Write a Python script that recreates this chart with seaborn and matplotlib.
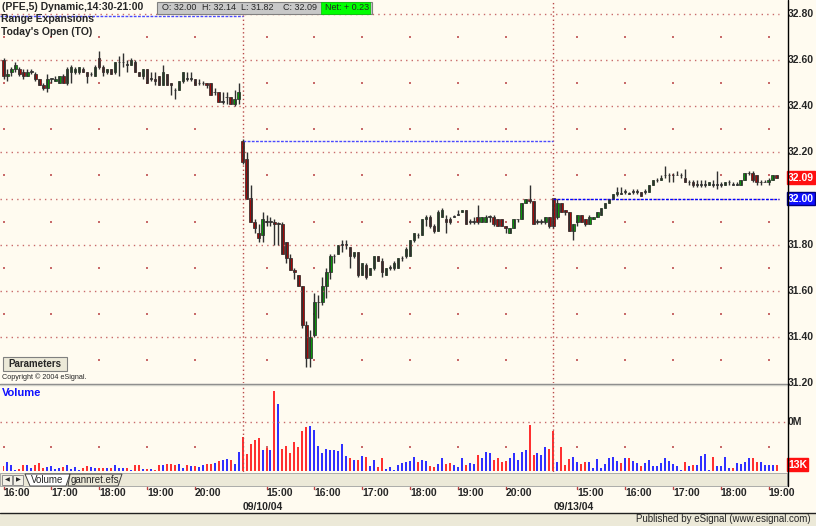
# --- PFE 5-min chart, eSignal look --- #
import numpy as np
import pandas as pd
import matplotlib
matplotlib.use("Agg")
import matplotlib.pyplot as plt
import matplotlib.transforms as mtransforms
from matplotlib.patches import Rectangle, Polygon
from matplotlib.lines import Line2D
import seaborn as sns

# ===================================================================== #
# --- DATA --- #
# day 1 : 16:00 - 20:55 (60 bars)
day1_open = [32.60, 32.53, 32.55, 32.56, 32.56, 32.55, 32.53, 32.55, 32.54, 32.52,
             32.49, 32.48, 32.52, 32.51, 32.50, 32.53, 32.50, 32.55, 32.55, 32.55,
             32.56, 32.55, 32.54, 32.53, 32.61, 32.57, 32.55, 32.56, 32.55, 32.59,
             32.59, 32.58, 32.58, 32.59, 32.55, 32.53, 32.56, 32.52, 32.52, 32.53,
             32.49, 32.54, 32.50, 32.47, 32.47, 32.51, 32.52, 32.52, 32.52, 32.50,
             32.50, 32.50, 32.50, 32.46, 32.46, 32.42, 32.44, 32.44, 32.41, 32.43]
day1_high = [32.61, 32.56, 32.57, 32.59, 32.57, 32.56, 32.56, 32.56, 32.55, 32.52,
             32.50, 32.54, 32.52, 32.53, 32.53, 32.54, 32.57, 32.58, 32.57, 32.57,
             32.57, 32.55, 32.55, 32.58, 32.64, 32.58, 32.56, 32.56, 32.59, 32.62,
             32.63, 32.60, 32.61, 32.60, 32.55, 32.56, 32.56, 32.55, 32.55, 32.53,
             32.58, 32.54, 32.50, 32.48, 32.51, 32.55, 32.55, 32.55, 32.52, 32.52,
             32.51, 32.50, 32.50, 32.48, 32.46, 32.46, 32.46, 32.44, 32.47, 32.50]
day1_low = [32.52, 32.51, 32.53, 32.55, 32.53, 32.52, 32.53, 32.54, 32.51, 32.49,
            32.47, 32.46, 32.50, 32.51, 32.50, 32.50, 32.49, 32.50, 32.54, 32.54,
            32.55, 32.50, 32.53, 32.53, 32.56, 32.53, 32.54, 32.54, 32.54, 32.53,
            32.57, 32.55, 32.58, 32.55, 32.53, 32.52, 32.50, 32.51, 32.49, 32.49,
            32.49, 32.49, 32.45, 32.43, 32.47, 32.50, 32.51, 32.51, 32.49, 32.49,
            32.49, 32.48, 32.45, 32.45, 32.42, 32.41, 32.41, 32.41, 32.40, 32.41]
day1_close = [32.53, 32.54, 32.56, 32.58, 32.54, 32.53, 32.55, 32.55, 32.52, 32.49,
              32.48, 32.52, 32.52, 32.52, 32.53, 32.50, 32.56, 32.57, 32.56, 32.57,
              32.55, 32.53, 32.54, 32.57, 32.57, 32.55, 32.56, 32.54, 32.59, 32.59,
              32.59, 32.58, 32.60, 32.55, 32.53, 32.56, 32.50, 32.52, 32.51, 32.49,
              32.55, 32.49, 32.49, 32.47, 32.51, 32.55, 32.52, 32.52, 32.49, 32.50,
              32.50, 32.49, 32.45, 32.46, 32.42, 32.42, 32.44, 32.41, 32.43, 32.46]

# day 2 : 09/10/04, 14:30 - 20:55 (78 bars)
day2_open = [32.25, 32.17, 32.00, 31.90, 31.85, 31.84, 31.90, 31.90, 31.90, 31.89,
             31.89, 31.81, 31.74, 31.69, 31.67, 31.62, 31.45, 31.31, 31.41, 31.55,
             31.55, 31.62, 31.68, 31.75, 31.76, 31.80, 31.80, 31.79, 31.75, 31.77,
             31.67, 31.71, 31.67, 31.70, 31.75, 31.73, 31.67, 31.70, 31.70, 31.70,
             31.74, 31.75, 31.75, 31.82, 31.84, 31.84, 31.91, 31.92, 31.88, 31.86,
             31.92, 31.91, 31.91, 31.92, 31.93, 31.94, 31.95, 31.90, 31.90, 31.92,
             31.90, 31.90, 31.92, 31.92, 31.91, 31.91, 31.88, 31.85, 31.87, 31.91,
             31.91, 31.98, 32.00, 31.99, 31.90, 31.90, 31.90, 31.92]
day2_high = [32.26, 32.20, 32.06, 31.91, 31.89, 31.94, 31.93, 31.92, 31.91, 31.90,
             31.90, 31.81, 31.76, 31.70, 31.67, 31.62, 31.47, 31.43, 31.59, 31.58,
             31.66, 31.70, 31.76, 31.76, 31.80, 31.82, 31.82, 31.79, 31.77, 31.77,
             31.72, 31.72, 31.70, 31.75, 31.75, 31.74, 31.70, 31.71, 31.73, 31.74,
             31.75, 31.79, 31.82, 31.85, 31.85, 31.91, 31.93, 31.93, 31.89, 31.95,
             31.96, 31.93, 31.92, 31.93, 31.95, 31.95, 31.95, 31.91, 31.92, 31.97,
             31.92, 31.93, 31.93, 31.93, 31.91, 31.91, 31.88, 31.87, 31.91, 31.91,
             31.98, 32.00, 32.06, 31.99, 31.91, 31.91, 31.92, 31.92]
day2_low = [32.15, 32.00, 31.90, 31.85, 31.81, 31.81, 31.88, 31.88, 31.80, 31.80,
            31.76, 31.72, 31.69, 31.65, 31.62, 31.44, 31.27, 31.27, 31.40, 31.48,
            31.54, 31.57, 31.65, 31.72, 31.76, 31.77, 31.78, 31.70, 31.74, 31.66,
            31.67, 31.65, 31.67, 31.69, 31.73, 31.66, 31.67, 31.69, 31.69, 31.70,
            31.73, 31.74, 31.75, 31.81, 31.83, 31.84, 31.88, 31.87, 31.85, 31.86,
            31.92, 31.85, 31.89, 31.92, 31.93, 31.94, 31.89, 31.89, 31.89, 31.89,
            31.90, 31.90, 31.90, 31.88, 31.88, 31.88, 31.85, 31.85, 31.87, 31.90,
            31.91, 31.98, 31.98, 31.89, 31.89, 31.89, 31.89, 31.87]
day2_close = [32.16, 32.00, 31.90, 31.87, 31.83, 31.91, 31.90, 31.90, 31.89, 31.89,
              31.76, 31.74, 31.69, 31.68, 31.62, 31.45, 31.31, 31.40, 31.55, 31.55,
              31.62, 31.68, 31.75, 31.75, 31.80, 31.80, 31.80, 31.75, 31.77, 31.67,
              31.72, 31.66, 31.70, 31.75, 31.73, 31.68, 31.70, 31.70, 31.72, 31.74,
              31.74, 31.78, 31.82, 31.85, 31.84, 31.91, 31.92, 31.88, 31.86, 31.94,
              31.95, 31.90, 31.90, 31.92, 31.93, 31.95, 31.89, 31.90, 31.90, 31.90,
              31.92, 31.92, 31.92, 31.89, 31.88, 31.88, 31.87, 31.87, 31.91, 31.91,
              31.98, 32.00, 31.99, 31.89, 31.90, 31.90, 31.92, 31.88]

# day 3 : 09/13/04, 14:30 - 19:10 (57 bars)
day3_open = [32.00, 31.92, 31.98, 31.95, 31.94, 31.86, 31.90, 31.93, 31.91, 31.89,
             31.91, 31.92, 31.93, 31.96, 31.98, 32.00, 32.02, 32.02, 32.03, 32.02,
             32.03, 32.03, 32.03, 32.03, 32.03, 32.06, 32.08, 32.08, 32.10, 32.10,
             32.10, 32.10, 32.10, 32.09, 32.07, 32.07, 32.06, 32.06, 32.06, 32.06,
             32.06, 32.06, 32.06, 32.06, 32.07, 32.06, 32.06, 32.06, 32.08, 32.11,
             32.11, 32.10, 32.07, 32.07, 32.07, 32.08, 32.10]
day3_high = [32.00, 32.00, 31.98, 31.95, 31.94, 31.89, 31.93, 31.93, 31.91, 31.93,
             31.92, 31.94, 31.96, 31.98, 32.00, 32.02, 32.05, 32.05, 32.04, 32.03,
             32.04, 32.04, 32.03, 32.04, 32.06, 32.08, 32.09, 32.10, 32.14, 32.11,
             32.11, 32.12, 32.11, 32.13, 32.08, 32.08, 32.08, 32.08, 32.08, 32.07,
             32.08, 32.12, 32.07, 32.07, 32.08, 32.07, 32.07, 32.08, 32.11, 32.12,
             32.12, 32.10, 32.08, 32.08, 32.09, 32.10, 32.10]
day3_low = [31.87, 31.91, 31.94, 31.93, 31.86, 31.82, 31.88, 31.90, 31.88, 31.89,
            31.91, 31.92, 31.93, 31.96, 31.98, 32.00, 32.01, 32.02, 32.02, 32.02,
            32.02, 32.02, 32.01, 32.02, 32.03, 32.06, 32.07, 32.08, 32.09, 32.07,
            32.07, 32.10, 32.09, 32.07, 32.06, 32.05, 32.05, 32.05, 32.05, 32.06,
            32.05, 32.04, 32.05, 32.06, 32.06, 32.06, 32.06, 32.06, 32.08, 32.10,
            32.07, 32.06, 32.06, 32.07, 32.06, 32.08, 32.09]
day3_close = [31.88, 31.98, 31.94, 31.94, 31.86, 31.89, 31.93, 31.90, 31.89, 31.92,
              31.92, 31.94, 31.96, 31.98, 32.00, 32.02, 32.03, 32.02, 32.03, 32.02,
              32.03, 32.03, 32.01, 32.03, 32.06, 32.08, 32.08, 32.09, 32.10, 32.10,
              32.10, 32.10, 32.10, 32.07, 32.07, 32.06, 32.06, 32.06, 32.06, 32.07,
              32.06, 32.06, 32.06, 32.07, 32.07, 32.06, 32.06, 32.08, 32.11, 32.11,
              32.08, 32.07, 32.07, 32.07, 32.08, 32.10, 32.09]

# volume in thousands
day1_vol = [10, 18, 12, 3, 5, 12, 12, 7, 12, 16, 7, 9, 10, 5, 7, 9, 12, 5, 9, 3,
            7, 10, 9, 7, 7, 7, 7, 7, 12, 7, 7, 7, 3, 12, 12, 5, 5, 5, 3, 12,
            12, 14, 15, 12, 15, 7, 12, 11, 11, 9, 12, 14, 15, 16, 20, 22, 25, 22, 15, 38]
day2_vol = [69, 35, 56, 63, 68, 43, 46, 42, 164, 136, 45, 52, 36, 60, 50, 82, 90, 91, 83, 52,
            36, 44, 42, 42, 40, 56, 30, 27, 23, 23, 30, 29, 11, 23, 9, 26, 4, 9, 3, 12,
            17, 19, 20, 28, 19, 23, 20, 11, 9, 15, 27, 15, 17, 13, 9, 27, 13, 17, 15, 32,
            27, 38, 36, 23, 26, 19, 21, 26, 37, 22, 38, 43, 93, 32, 37, 32, 48, 44]
day3_vol = [81, 19, 48, 13, 24, 28, 19, 15, 19, 18, 7, 24, 7, 15, 27, 29, 20, 16, 27, 27,
            20, 16, 11, 16, 22, 11, 11, 16, 27, 20, 14, 10, 2, 19, 11, 12, 12, 31, 35, 3,
            29, 10, 10, 29, 7, 7, 16, 15, 18, 27, 27, 19, 19, 13, 13, 12, 13]

# levels and labels
range_levels = [32.79, 32.25, 32.00]
day_dates = ["09/10/04", "09/13/04"]
price_ticks = [32.80, 32.60, 32.40, 32.20, 32.00, 31.80, 31.60, 31.40, 31.20]
day1_hours = ["16:00", "17:00", "18:00", "19:00", "20:00"]
day2_hours = ["15:00", "16:00", "17:00", "18:00", "19:00", "20:00"]
day3_hours = ["15:00", "16:00", "17:00", "18:00", "19:00"]
header_title = "(PFE,5) Dynamic,14:30-21:00"
header_ohlc = ["O: 32.00", "H: 32.14", "L: 31.82", "C: 32.09"]
header_net = "Net: + 0.23"

# ===================================================================== #
# --- BUILD SERIES --- #
opens = np.array(day1_open + day2_open + day3_open)
highs = np.array(day1_high + day2_high + day3_high)
lows = np.array(day1_low + day2_low + day3_low)
closes = np.array(day1_close + day2_close + day3_close)
vols = np.array(day1_vol + day2_vol + day3_vol)
idx = np.arange(len(opens))

n1, n2 = len(day1_open), len(day2_open)
day_starts = [n1, n1 + n2]          # 14:30 bars of 09/10 and 09/13
# hourly bars: day 1 starts at 16:00, later days at 14:30 (hour = 6 bars later)
hour_idx = [i * 12 for i in range(len(day1_hours))]
hour_idx += [n1 + 6 + i * 12 for i in range(len(day2_hours))]
hour_idx += [n1 + n2 + 6 + i * 12 for i in range(len(day3_hours))]
hour_lab = day1_hours + day2_hours + day3_hours

prev_close = np.r_[closes[0], closes[:-1]]
down = (closes < opens) | ((closes == opens) & (closes < prev_close))

# ===================================================================== #
# --- STYLE --- #
sns.set_style("white")
plt.rcParams["font.family"] = ["Liberation Sans", "DejaVu Sans"]

BG = "#FFFBF0"
GRID = "#C86A6A"
GRAY = "#ECE9D8"
W, H = 816, 526
BAR_PX = 3.985
X0_PX = 3.5
AX_W = 787

fig = plt.figure(figsize=(W / 100, H / 100), dpi=100)
fig.patch.set_facecolor(BG)


def fx(px):
    return px / W


def fy(py):
    return 1 - py / H


xlim = (-X0_PX / BAR_PX, (AX_W - X0_PX) / BAR_PX)
x_end = (779 - X0_PX) / BAR_PX
px_per_dollar = 46.125 / 0.2

ax = fig.add_axes([0, fy(383), fx(AX_W), 383 / H])
axv = fig.add_axes([0, fy(472), fx(AX_W), (472 - 385) / H])
for a in (ax, axv):
    a.set_facecolor(BG)
    a.set_xlim(*xlim)
    for s in a.spines.values():
        s.set_visible(False)

ax.set_ylim(31.20, 32.80 + 14 / px_per_dollar)
axv.set_ylim(-1 / 0.49, 86 / 0.49)

# ===================================================================== #
# --- PRICE PANEL --- #
ax.hlines(price_ticks[:-1], xlim[0], x_end, colors=GRID, linestyles=(0, (1, 3)), linewidth=1)
mids = [p - 0.1 for p in price_ticks[:-1]]
hx, hy = np.meshgrid(hour_idx, mids)
ax.scatter(hx.ravel(), hy.ravel(), s=1.5, marker="s", color=GRID, linewidths=0)
for d in day_starts:
    ax.axvline(d, color="#B84A4A", linestyle=(0, (1, 2)), linewidth=1)
    axv.axvline(d, color="#B84A4A", linestyle=(0, (1, 2)), linewidth=1)

# range expansion / today's open lines
bounds = [xlim[0]] + day_starts + [x_end]
for i, lv in enumerate(range_levels):
    col = "#0000FF" if i == len(range_levels) - 1 else "#4A4AFF"
    ax.hlines(lv, bounds[i], bounds[i + 1], colors=col, linestyles=(0, (2, 1)), linewidth=1)

# candles
ax.vlines(idx, lows, highs, colors="#303030", linewidth=1)
body_col = np.where(closes > opens, "#00B000", np.where(closes < opens, "#C00000", "#202020"))
ax.bar(idx, np.maximum(np.abs(closes - opens), 0.002), bottom=np.minimum(opens, closes),
       width=0.62, color=body_col, edgecolor="#202020", linewidth=0.5)
ax.set_xticks([])
ax.set_yticks([])

# right price scale
ty = ax.get_yaxis_transform()
for p in price_ticks:
    ax.text(788 / AX_W, p, f"{p:.2f}", transform=ty, ha="left", va="center",
            fontsize=7.5, fontweight="bold", clip_on=False)
ax.text(788 / AX_W, closes[-1], f"{closes[-1]:.2f}", transform=ty, ha="left", va="center",
        fontsize=7.5, fontweight="bold", color="white", clip_on=False,
        bbox=dict(boxstyle="square,pad=0.12", fc="#FF1010", ec="#FF1010"))
ax.text(788 / AX_W, range_levels[-1], f"{range_levels[-1]:.2f}", transform=ty, ha="left",
        va="center", fontsize=7.5, fontweight="bold", color="white", clip_on=False,
        bbox=dict(boxstyle="square,pad=0.12", fc="#1010FF", ec="#000080"))

# ===================================================================== #
# --- VOLUME PANEL --- #
axv.axhline(100, color=GRID, linestyle=(0, (1, 3)), linewidth=1)
axv.scatter(hour_idx, [50] * len(hour_idx), s=1.5, marker="s", color=GRID, linewidths=0)
vol_df = pd.DataFrame({"bar": idx, "vol": vols, "dir": np.where(down, "down", "up")})
sns.barplot(data=vol_df, x="bar", y="vol", hue="dir", native_scale=True, dodge=False,
            palette={"down": "#FF3030", "up": "#3030FF"}, width=0.5, linewidth=0,
            saturation=1, errorbar=None, legend=False, ax=axv)
axv.set_xlim(*xlim)
axv.set_ylim(-1 / 0.49, 86 / 0.49)
axv.set_xticks([])
axv.set_yticks([])
axv.set_xlabel("")
axv.set_ylabel("")
tv = axv.get_yaxis_transform()
axv.text(788 / AX_W, 100, "0M", transform=tv, ha="left", va="center",
         fontsize=7.5, fontweight="bold", clip_on=False)
axv.text(788 / AX_W, 13, f"{vols[-1]}K", transform=tv, ha="left", va="center",
         fontsize=7.5, fontweight="bold", color="white", clip_on=False,
         bbox=dict(boxstyle="square,pad=0.12", fc="#FF1010", ec="#FF1010"))
axv.text(0.003, 1 - 8 / 87, "Volume", transform=axv.transAxes, ha="left", va="center",
         fontsize=8, fontweight="bold", color="#1010FF")

# ===================================================================== #
# --- WINDOW FURNITURE --- #
fig.add_artist(Line2D([0, fx(AX_W)], [fy(383.5), fy(383.5)], color="#808080", lw=1))
fig.add_artist(Line2D([0, fx(AX_W)], [fy(385), fy(385)], color="#D0D0C8", lw=1))
fig.add_artist(Line2D([fx(AX_W + 0.5)] * 2, [fy(0), fy(486)], color="black", lw=1))

# header
fig.text(fx(2), fy(7.5), header_title, fontsize=7.5, fontweight="bold", va="center")
fig.add_artist(Rectangle((fx(157), fy(14)), fx(215), 12 / H, facecolor="#C8C8C8",
                         edgecolor="#808080", lw=0.8))
fig.add_artist(Rectangle((fx(321), fy(13.5)), fx(49), 11 / H, facecolor="#00FF00",
                         edgecolor="#00C000", lw=0.5))
for xp, t in zip([162, 202, 241, 283], header_ohlc):
    fig.text(fx(xp), fy(8), t, fontsize=6.5, va="center")
fig.text(fx(325), fy(8), header_net, fontsize=6.5, va="center")
fig.text(fx(1), fy(19.5), "Range Expansions", fontsize=7.5, fontweight="bold", va="center")
fig.text(fx(1), fy(32), "Today's Open (TO)", fontsize=7.5, fontweight="bold", va="center")

# parameters button + copyright
fig.add_artist(Rectangle((fx(3), fy(371)), fx(64), 14 / H, facecolor=GRAY,
                         edgecolor="#808080", lw=0.8))
fig.text(fx(35), fy(364), "Parameters", fontsize=7, fontweight="bold", ha="center", va="center")
fig.text(fx(2), fy(377.5), "Copyright \u00a9 2004 eSignal.", fontsize=5.2, va="center")

# tab strip
fig.add_artist(Rectangle((0, fy(486)), fx(AX_W), 13 / H, facecolor=GRAY,
                         edgecolor="#A0A0A0", lw=0.6))
for bx, tri in [(2, "\u25c0"), (13, "\u25b6")]:
    fig.add_artist(Rectangle((fx(bx), fy(485)), fx(10), 10 / H, facecolor="#F4F2E8",
                             edgecolor="#808080", lw=0.6))
    fig.text(fx(bx + 5), fy(480), tri, fontsize=4.5, ha="center", va="center")
fig.add_artist(Polygon([(fx(25), fy(474)), (fx(70), fy(474)), (fx(66), fy(486)), (fx(30), fy(486))],
                       closed=True, facecolor="#FFFFFF", edgecolor="#404040", lw=0.7))
fig.add_artist(Polygon([(fx(70), fy(474)), (fx(122), fy(474)), (fx(118), fy(486)), (fx(68), fy(486))],
                       closed=True, facecolor=GRAY, edgecolor="#404040", lw=0.7))
fig.text(fx(47), fy(480), "Volume", fontsize=7, ha="center", va="center")
fig.text(fx(95), fy(480), "gannret.efs", fontsize=7, ha="center", va="center")

# time axis
tt = mtransforms.blended_transform_factory(ax.transData, fig.transFigure)
for hi, lab in zip(hour_idx, hour_lab):
    fig.text(hi, fy(493.5), lab, transform=tt, fontsize=7.5, fontweight="bold",
             ha="left", va="center")
    fig.add_artist(Line2D([hi, hi], [fy(486.5), fy(488.5)], transform=tt, color="#C04040", lw=1))
for d, lab in zip(day_starts, day_dates):
    fig.text(d, fy(507), lab, transform=tt, fontsize=7.5, fontweight="bold",
             ha="left", va="center")

# status bar
fig.add_artist(Line2D([0, 1], [fy(513), fy(513)], color="#202020", lw=1))
fig.add_artist(Rectangle((0, 0), 1, 12.5 / H, facecolor=GRAY, edgecolor="none"))
fig.text(fx(811), fy(519), "Published by eSignal (www.esignal.com)", fontsize=7,
         ha="right", va="center")

fig.savefig("out.png", dpi=100, facecolor=fig.get_facecolor())
